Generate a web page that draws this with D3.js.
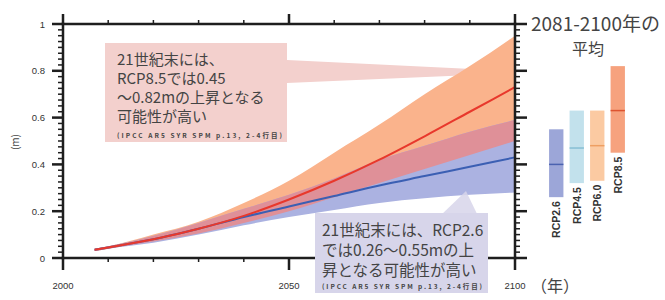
<!DOCTYPE html>
<html>
<head>
<meta charset="utf-8">
<script src="https://cdn.jsdelivr.net/npm/d3@7"></script>
<style>
  body { margin: 0; background: #fff; }
  svg { display: block; font-family: "Noto Sans CJK JP", "Noto Sans", sans-serif; }
</style>
</head>
<body>
<script>
// time series (m)
const years = [2007, 2010, 2020, 2030, 2040, 2050, 2060, 2070, 2080, 2090, 2100];
const rcp85Mean  = [0.035, 0.045, 0.08, 0.125, 0.18, 0.25, 0.33, 0.42, 0.52, 0.625, 0.73];
const rcp85Upper = [0.04, 0.05, 0.10, 0.155, 0.235, 0.33, 0.45, 0.57, 0.70, 0.82, 0.95];
const rcp85Lower = [0.03, 0.04, 0.07, 0.105, 0.15, 0.20, 0.26, 0.32, 0.38, 0.44, 0.50];
const rcp26Mean  = [0.035, 0.045, 0.08, 0.125, 0.175, 0.22, 0.265, 0.31, 0.35, 0.39, 0.43];
const rcp26Upper = [0.04, 0.05, 0.095, 0.15, 0.21, 0.27, 0.34, 0.42, 0.48, 0.54, 0.59];
const rcp26Lower = [0.03, 0.04, 0.065, 0.10, 0.14, 0.175, 0.205, 0.235, 0.255, 0.27, 0.28];

// 2081-2100 averages
const scenarios = ["RCP2.6", "RCP4.5", "RCP6.0", "RCP8.5"];
const avgLow  = [0.26, 0.32, 0.33, 0.45];
const avgHigh = [0.55, 0.63, 0.63, 0.82];
const avgMean = [0.40, 0.47, 0.48, 0.63];

const yMajor = [0, 0.2, 0.4, 0.6, 0.8, 1];
const yMinor = [0.025, 0.05, 0.075, 0.1, 0.125, 0.15, 0.175, 0.225, 0.25, 0.275, 0.3, 0.325, 0.35, 0.375,
  0.425, 0.45, 0.475, 0.5, 0.525, 0.55, 0.575, 0.625, 0.65, 0.675, 0.7, 0.725, 0.75, 0.775,
  0.825, 0.85, 0.875, 0.9, 0.925, 0.95, 0.975];
const xMajor = [2000, 2050, 2100];
const xMinor = [2010, 2020, 2030, 2040, 2060, 2070, 2080, 2090];

const width = 665, height = 300;
const axisColor = "#1e1e1e";
const textColor = "#444";

const x = d3.scaleLinear().domain([2000, 2100]).range([63, 515]);
const y = d3.scaleLinear().domain([0, 1]).range([258, 24]);

const svg = d3.select("body").append("svg")
  .attr("width", width)
  .attr("height", height);

// top annotation pointer (under the bands)
svg.append("path")
  .attr("d", d3.line()([[287, 60], [287, 83], [472, 75], [472, 69]]))
  .attr("fill", "#f3d0cd");

// bands
const band = (lo, hi) => d3.area()
  .x((d, i) => x(years[i]))
  .y0((d, i) => y(lo[i]))
  .y1((d, i) => y(hi[i]))
  .curve(d3.curveMonotoneX)(years);

svg.append("path").attr("d", band(rcp85Lower, rcp85Upper)).attr("fill", "#fab38c");
svg.append("path").attr("d", band(rcp26Lower, rcp26Upper)).attr("fill", "#abb2e1");

// overlap of the two ranges
const ovLo = years.map((d, i) => Math.max(rcp85Lower[i], rcp26Lower[i]));
const ovHi = years.map((d, i) => Math.min(rcp85Upper[i], rcp26Upper[i]));
svg.append("path").attr("d", band(ovLo, ovHi)).attr("fill", "#df9098");

// mean lines
const meanLine = vals => d3.line()
  .x((d, i) => x(years[i]))
  .y((d, i) => y(vals[i]))
  .curve(d3.curveMonotoneX)(years);

svg.append("path").attr("d", meanLine(rcp26Mean))
  .attr("fill", "none").attr("stroke", "#3b5fb3").attr("stroke-width", 2);
svg.append("path").attr("d", meanLine(rcp85Mean))
  .attr("fill", "none").attr("stroke", "#e8382c").attr("stroke-width", 2);

// frame + ticks as filled rects (ticks point outward)
const axes = svg.append("g").attr("fill", axisColor);
const x0 = x(2000), x1 = x(2100), yb = y(0), yt = y(1);
axes.append("rect").attr("x", x0 - 1.25).attr("y", yt - 1.25).attr("width", 2.5).attr("height", yb - yt + 2.5);
axes.append("rect").attr("x", x1 - 1.25).attr("y", yt - 1.25).attr("width", 2.5).attr("height", yb - yt + 2.5);
axes.append("rect").attr("x", x0 - 1.25).attr("y", yt - 1.25).attr("width", x1 - x0 + 2.5).attr("height", 2.5);
axes.append("rect").attr("x", x0 - 1.25).attr("y", yb - 1.25).attr("width", x1 - x0 + 2.5).attr("height", 2.5);

function hTicks(vals, xs, len, w) {
  axes.append("g").selectAll("rect")
    .data(vals)
    .join("rect")
      .attr("x", len < 0 ? xs + len : xs)
      .attr("y", d => y(d) - w / 2)
      .attr("width", Math.abs(len))
      .attr("height", w);
}
function vTicks(vals, ys, len, w) {
  axes.append("g").selectAll("rect")
    .data(vals)
    .join("rect")
      .attr("x", d => x(d) - w / 2)
      .attr("y", len < 0 ? ys + len : ys)
      .attr("width", w)
      .attr("height", Math.abs(len));
}
hTicks(yMinor, x0, -5, 1.5);
hTicks(yMajor, x0, -11, 2.5);
hTicks(yMinor, x1, 5, 1.5);
hTicks(yMajor, x1, 12, 2.5);
vTicks(xMinor, yt, -4, 1.5);
vTicks(xMajor, yt, -10, 2.5);
vTicks(xMinor, yb, 4, 1.5);
vTicks(xMajor, yb, 12, 2.5);

// tick labels
svg.append("g").selectAll("text")
  .data(yMajor)
  .join("text")
    .attr("x", 45)
    .attr("y", d => y(d) + 3.5)
    .attr("text-anchor", "end")
    .attr("fill", "#333")
    .style("font-family", "'Liberation Sans', sans-serif")
    .style("font-size", "9.5px")
    .text(d3.format("~g"));

svg.append("g").selectAll("text")
  .data(xMajor)
  .join("text")
    .attr("x", d => x(d))
    .attr("y", 289)
    .attr("text-anchor", "middle")
    .attr("fill", "#333")
    .style("font-family", "'Liberation Sans', sans-serif")
    .style("font-size", "9.5px")
    .text(d3.format("d"));

// axis titles
svg.append("text")
  .attr("transform", "translate(19,142) rotate(-90)")
  .attr("text-anchor", "middle")
  .attr("fill", textColor)
  .style("font-size", "10px")
  .text("(m)");

svg.append("text")
  .attr("x", 531).attr("y", 292)
  .attr("fill", textColor)
  .style("font-size", "16px")
  .text("（年）");

// annotation boxes
svg.append("rect")
  .attr("x", 105).attr("y", 43).attr("width", 182).attr("height", 99)
  .attr("fill", "#f3d0cd");

const topLines = ["21世紀末には、", "RCP8.5では0.45", "～0.82mの上昇となる", "可能性が高い"];
svg.append("g").selectAll("text")
  .data(topLines)
  .join("text")
    .attr("x", 117)
    .attr("y", (d, i) => 65 + i * 19)
    .attr("fill", textColor)
    .style("font-size", "15px")
    .text(d => d);
svg.append("text")
  .attr("x", 117).attr("y", 138)
  .attr("fill", textColor)
  .attr("textLength", 165)
  .style("font-size", "6.5px")
  .style("font-weight", "bold")
  .text("(IPCC AR5 SYR SPM p.13, 2-4行目)");

// bottom box + pointer (over the bands)
svg.append("path")
  .attr("d", d3.line()([[440, 216], [478, 216], [466, 191]]) + "Z")
  .attr("fill", "#d7d5ea")
  .attr("opacity", 0.85);
svg.append("rect")
  .attr("x", 315).attr("y", 213).attr("width", 173).attr("height", 80)
  .attr("fill", "#d7d5ea");

const botLines = ["21世紀末には、RCP2.6", "では0.26～0.55mの上", "昇となる可能性が高い"];
svg.append("g").selectAll("text")
  .data(botLines)
  .join("text")
    .attr("x", 322)
    .attr("y", (d, i) => 236 + i * 20)
    .attr("fill", textColor)
    .style("font-size", "15.5px")
    .text(d => d);
svg.append("text")
  .attr("x", 322).attr("y", 289)
  .attr("fill", textColor)
  .attr("textLength", 160)
  .style("font-size", "6.5px")
  .style("font-weight", "bold")
  .text("(IPCC AR5 SYR SPM p.13, 2-4行目)");

// right panel: 2081-2100 averages
svg.append("text")
  .attr("x", 531).attr("y", 31)
  .attr("fill", textColor)
  .style("font-size", "19px")
  .text("2081-2100年の");
svg.append("text")
  .attr("x", 588).attr("y", 55)
  .attr("text-anchor", "middle")
  .attr("fill", textColor)
  .style("font-size", "16px")
  .text("平均");

const xb = d3.scaleBand().domain(scenarios).range([546, 628]).paddingInner(0.3).paddingOuter(0.15);
const barFill = ["#9ca6d8", "#c2e1ec", "#fbcaa2", "#f6a27e"];
const barMean = ["#4a62b0", "#86bfd4", "#ee9f62", "#dd5430"];

const bars = svg.append("g").selectAll("g")
  .data(scenarios)
  .join("g");

bars.append("rect")
  .attr("x", d => xb(d))
  .attr("width", xb.bandwidth())
  .attr("y", (d, i) => y(avgHigh[i]))
  .attr("height", (d, i) => y(avgLow[i]) - y(avgHigh[i]))
  .attr("fill", (d, i) => barFill[i]);

bars.append("line")
  .attr("x1", d => xb(d))
  .attr("x2", d => xb(d) + xb.bandwidth())
  .attr("y1", (d, i) => y(avgMean[i]))
  .attr("y2", (d, i) => y(avgMean[i]))
  .attr("stroke", (d, i) => barMean[i])
  .attr("stroke-width", 1.5);

bars.append("text")
  .attr("transform", (d, i) => `translate(${xb(d) + xb.bandwidth() / 2 + 4},${y(avgLow[i]) + 4}) rotate(-90)`)
  .attr("text-anchor", "end")
  .attr("fill", "#333")
  .style("font-family", "'Liberation Sans', sans-serif")
  .style("font-size", "10.5px")
  .style("font-weight", "bold")
  .text(d => d);
</script>
</body>
</html>
